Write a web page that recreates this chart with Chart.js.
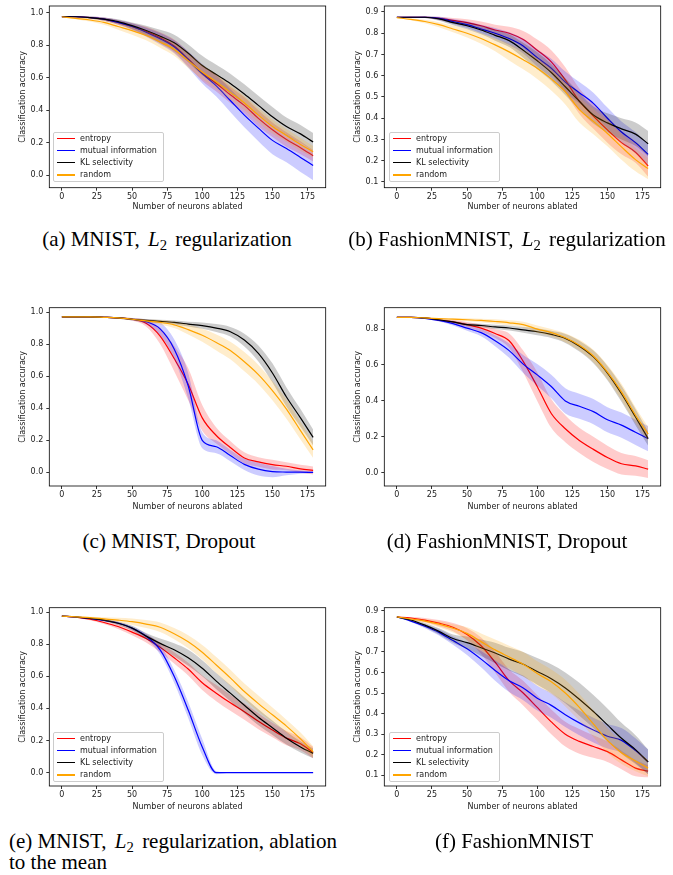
<!DOCTYPE html>
<html>
<head>
<meta charset="utf-8">
<title>Ablation curves</title>
<script src="https://cdn.jsdelivr.net/npm/chart.js@4.4.1/dist/chart.umd.min.js"></script>
<style>
  html, body { margin: 0; padding: 0; background: #fff; }
  #fig { position: relative; width: 673px; height: 875px; overflow: hidden; }
  canvas { position: absolute; }
  .legend {
    position: absolute; box-sizing: border-box; width: 111px; height: 50px;
    padding: 0 0 0 3px; border: 1px solid #ccc; border-radius: 2px;
    background: rgba(255, 255, 255, 0.8);
    font: 8px 'DejaVu Sans', sans-serif; color: #222;
  }
  .legend div { height: 12.1px; line-height: 12.1px; white-space: nowrap; }
  .legend span { display: inline-block; width: 18px; height: 1.5px; vertical-align: middle; margin-right: 5px; }
  .cap {
    position: absolute; font: 21px 'Liberation Serif', 'Times New Roman', serif;
    line-height: 21px; white-space: nowrap; color: #000;
  }
  .cap.mid { transform: translateX(-50%); }
  .cap .l2 { margin: 0 3px; }
  .cap sub { font-size: 70%; vertical-align: -0.25em; line-height: 0; }
</style>
</head>
<body>
<div id="fig">
  <canvas id="pa" width="338" height="215" style="left:0;top:0"></canvas>
  <canvas id="pb" width="338" height="215" style="left:335px;top:0"></canvas>
  <canvas id="pc" width="338" height="215" style="left:0;top:300px"></canvas>
  <canvas id="pd" width="338" height="215" style="left:335px;top:300px"></canvas>
  <canvas id="pe" width="338" height="215" style="left:0;top:600px"></canvas>
  <canvas id="pf" width="338" height="215" style="left:335px;top:600px"></canvas>

  <div class="legend" id="la" style="left:53px;top:132px"></div>
  <div class="legend" id="lb" style="left:389px;top:132px"></div>
  <div class="legend" id="le" style="left:53px;top:732px"></div>
  <div class="legend" id="lf" style="left:389px;top:732px"></div>

  <div class="cap mid" style="left:167px;top:229px">(a) MNIST, <span class="l2"><i>L</i><sub>2</sub></span> regularization</div>
  <div class="cap mid" style="left:507px;top:229px">(b) FashionMNIST, <span class="l2"><i>L</i><sub>2</sub></span> regularization</div>
  <div class="cap mid" style="left:169px;top:531px">(c) MNIST, Dropout</div>
  <div class="cap mid" style="left:507px;top:531px">(d) FashionMNIST, Dropout</div>
  <div class="cap" style="left:9px;top:831px">(e) MNIST, <span class="l2"><i>L</i><sub>2</sub></span> regularization, ablation<br>to the mean</div>
  <div class="cap mid" style="left:514px;top:831px">(f) FashionMNIST</div>
</div>

<script>
  // neurons ablated (x) and the four methods
  const xs = [0, 10, 20, 30, 40, 50, 60, 70, 80, 90, 100, 110, 120, 130, 140, 150, 160, 170, 179];
  const methods = ['entropy', 'mutual information', 'KL selectivity', 'random'];
  const xTicks = [0, 25, 50, 75, 100, 125, 150, 175];
  const yTicksMnist = [0, 0.2, 0.4, 0.6, 0.8, 1.0];
  const yTicksDrop = [0, 0.2, 0.4, 0.6, 0.8];
  const yTicksFashion = [0.1, 0.2, 0.3, 0.4, 0.5, 0.6, 0.7, 0.8, 0.9];

  // (a) MNIST, L2
  const aEnt = [0.975, 0.975, 0.97, 0.96, 0.94, 0.915, 0.885, 0.845, 0.795, 0.715, 0.63, 0.565, 0.495, 0.43, 0.35, 0.28, 0.22, 0.17, 0.12];
  const aMi  = [0.975, 0.975, 0.97, 0.96, 0.94, 0.915, 0.88, 0.84, 0.79, 0.712, 0.625, 0.55, 0.46, 0.37, 0.29, 0.215, 0.165, 0.11, 0.06];
  const aKl  = [0.975, 0.975, 0.97, 0.96, 0.945, 0.92, 0.89, 0.855, 0.815, 0.75, 0.675, 0.62, 0.565, 0.5, 0.43, 0.36, 0.3, 0.255, 0.205];
  const aRnd = [0.975, 0.965, 0.955, 0.94, 0.915, 0.89, 0.86, 0.82, 0.775, 0.705, 0.635, 0.575, 0.51, 0.445, 0.37, 0.3, 0.245, 0.19, 0.145];
  const aEntSd = [0, 0.003, 0.006, 0.01, 0.015, 0.02, 0.028, 0.035, 0.04, 0.045, 0.05, 0.05, 0.05, 0.05, 0.05, 0.045, 0.045, 0.04, 0.035];
  const aMiSd  = [0, 0.003, 0.006, 0.01, 0.015, 0.02, 0.028, 0.035, 0.04, 0.05, 0.06, 0.065, 0.07, 0.075, 0.08, 0.085, 0.085, 0.09, 0.09];
  const aKlSd  = [0, 0.003, 0.006, 0.01, 0.015, 0.02, 0.03, 0.04, 0.05, 0.055, 0.06, 0.06, 0.06, 0.06, 0.06, 0.06, 0.055, 0.055, 0.055];
  const aRndSd = [0, 0.005, 0.01, 0.015, 0.02, 0.025, 0.03, 0.035, 0.04, 0.045, 0.045, 0.045, 0.045, 0.045, 0.045, 0.045, 0.04, 0.04, 0.035];

  // (b) FashionMNIST, L2
  const bEnt = [0.875, 0.875, 0.875, 0.87, 0.86, 0.85, 0.835, 0.815, 0.8, 0.77, 0.72, 0.665, 0.58, 0.48, 0.41, 0.345, 0.285, 0.24, 0.175];
  const bMi  = [0.875, 0.875, 0.875, 0.87, 0.855, 0.84, 0.82, 0.8, 0.775, 0.74, 0.685, 0.635, 0.57, 0.52, 0.47, 0.4, 0.335, 0.285, 0.23];
  const bKl  = [0.875, 0.875, 0.875, 0.867, 0.85, 0.835, 0.815, 0.79, 0.765, 0.72, 0.67, 0.615, 0.548, 0.48, 0.415, 0.378, 0.35, 0.325, 0.28];
  const bRnd = [0.873, 0.865, 0.855, 0.84, 0.82, 0.8, 0.775, 0.745, 0.712, 0.675, 0.635, 0.585, 0.525, 0.44, 0.385, 0.328, 0.265, 0.205, 0.163];
  const bEntSd = [0, 0.002, 0.004, 0.008, 0.012, 0.016, 0.02, 0.025, 0.03, 0.04, 0.05, 0.055, 0.06, 0.06, 0.06, 0.06, 0.055, 0.05, 0.05];
  const bMiSd  = [0, 0.002, 0.004, 0.008, 0.012, 0.016, 0.02, 0.025, 0.03, 0.035, 0.04, 0.045, 0.05, 0.05, 0.05, 0.05, 0.05, 0.05, 0.05];
  const bKlSd  = [0, 0.002, 0.004, 0.008, 0.012, 0.016, 0.02, 0.025, 0.03, 0.035, 0.04, 0.04, 0.04, 0.04, 0.04, 0.045, 0.05, 0.055, 0.06];
  const bRndSd = [0, 0.004, 0.008, 0.012, 0.016, 0.02, 0.025, 0.03, 0.04, 0.045, 0.05, 0.055, 0.06, 0.06, 0.06, 0.06, 0.06, 0.055, 0.05];

  // (c) MNIST, dropout
  const cEnt = [0.97, 0.97, 0.97, 0.967, 0.963, 0.955, 0.93, 0.85, 0.71, 0.55, 0.34, 0.23, 0.155, 0.09, 0.065, 0.048, 0.038, 0.022, 0.012];
  const cMi  = [0.97, 0.97, 0.97, 0.967, 0.963, 0.955, 0.94, 0.895, 0.77, 0.54, 0.2, 0.16, 0.105, 0.05, 0.02, 0.005, 0.002, 0.001, 0];
  const cKl  = [0.97, 0.97, 0.97, 0.967, 0.963, 0.955, 0.948, 0.942, 0.935, 0.925, 0.915, 0.9, 0.877, 0.825, 0.742, 0.62, 0.47, 0.34, 0.218];
  const cRnd = [0.97, 0.97, 0.97, 0.967, 0.963, 0.955, 0.945, 0.935, 0.92, 0.89, 0.855, 0.81, 0.76, 0.69, 0.61, 0.51, 0.395, 0.26, 0.14];
  const cEntSd = [0, 0, 0.002, 0.003, 0.005, 0.008, 0.02, 0.05, 0.08, 0.1, 0.08, 0.05, 0.04, 0.035, 0.03, 0.03, 0.025, 0.025, 0.025];
  const cMiSd  = [0, 0, 0.002, 0.003, 0.005, 0.008, 0.015, 0.04, 0.06, 0.08, 0.05, 0.04, 0.035, 0.035, 0.04, 0.035, 0.02, 0.01, 0.005];
  const cKlSd  = [0, 0, 0.002, 0.003, 0.005, 0.006, 0.008, 0.01, 0.012, 0.015, 0.02, 0.025, 0.03, 0.04, 0.05, 0.06, 0.06, 0.055, 0.05];
  const cRndSd = [0, 0, 0.002, 0.003, 0.005, 0.008, 0.01, 0.015, 0.02, 0.03, 0.04, 0.05, 0.055, 0.06, 0.06, 0.06, 0.06, 0.055, 0.05];

  // (d) FashionMNIST, dropout
  const dEnt = [0.865, 0.865, 0.862, 0.85, 0.84, 0.825, 0.805, 0.775, 0.735, 0.62, 0.48, 0.33, 0.245, 0.18, 0.13, 0.085, 0.05, 0.038, 0.02];
  const dMi  = [0.865, 0.865, 0.86, 0.848, 0.83, 0.805, 0.78, 0.735, 0.68, 0.605, 0.545, 0.48, 0.4, 0.37, 0.34, 0.295, 0.265, 0.225, 0.19];
  const dKl  = [0.865, 0.865, 0.862, 0.852, 0.84, 0.825, 0.82, 0.812, 0.806, 0.795, 0.785, 0.77, 0.748, 0.705, 0.645, 0.555, 0.44, 0.31, 0.19];
  const dRnd = [0.865, 0.865, 0.862, 0.858, 0.855, 0.852, 0.848, 0.842, 0.835, 0.825, 0.8, 0.78, 0.752, 0.71, 0.65, 0.56, 0.45, 0.32, 0.215];
  const dEntSd = [0, 0, 0.003, 0.006, 0.01, 0.015, 0.02, 0.025, 0.04, 0.06, 0.08, 0.08, 0.075, 0.07, 0.07, 0.065, 0.06, 0.055, 0.05];
  const dMiSd  = [0, 0, 0.003, 0.006, 0.01, 0.015, 0.02, 0.03, 0.04, 0.05, 0.06, 0.065, 0.07, 0.07, 0.07, 0.07, 0.07, 0.07, 0.07];
  const dKlSd  = [0, 0, 0.002, 0.004, 0.006, 0.008, 0.01, 0.012, 0.014, 0.016, 0.02, 0.02, 0.025, 0.03, 0.035, 0.04, 0.045, 0.045, 0.04];
  const dRndSd = [0, 0, 0.002, 0.004, 0.006, 0.008, 0.01, 0.012, 0.014, 0.016, 0.02, 0.02, 0.025, 0.03, 0.035, 0.04, 0.045, 0.045, 0.04];

  // (e) MNIST, L2, ablation to the mean
  const eEnt = [0.975, 0.968, 0.955, 0.935, 0.91, 0.875, 0.835, 0.78, 0.715, 0.645, 0.56, 0.495, 0.435, 0.38, 0.32, 0.265, 0.215, 0.18, 0.125];
  const eMi  = [0.975, 0.968, 0.96, 0.948, 0.932, 0.9, 0.85, 0.765, 0.6, 0.39, 0.16, 0, 0, 0, 0, 0, 0, 0, 0];
  const eKl  = [0.975, 0.97, 0.96, 0.95, 0.93, 0.9, 0.85, 0.805, 0.765, 0.715, 0.65, 0.57, 0.495, 0.42, 0.345, 0.28, 0.215, 0.16, 0.12];
  const eRnd = [0.975, 0.97, 0.965, 0.958, 0.95, 0.94, 0.925, 0.905, 0.865, 0.815, 0.75, 0.67, 0.59, 0.505, 0.43, 0.36, 0.29, 0.21, 0.13];
  const eEntSd = [0, 0.003, 0.006, 0.01, 0.015, 0.02, 0.025, 0.03, 0.035, 0.04, 0.045, 0.05, 0.05, 0.05, 0.05, 0.045, 0.045, 0.04, 0.035];
  const eMiSd  = [0, 0.002, 0.004, 0.006, 0.008, 0.01, 0.015, 0.03, 0.04, 0.05, 0.05, 0.01, 0, 0, 0, 0, 0, 0, 0];
  const eKlSd  = [0, 0.002, 0.004, 0.006, 0.01, 0.015, 0.02, 0.03, 0.04, 0.05, 0.05, 0.05, 0.05, 0.05, 0.05, 0.045, 0.04, 0.035, 0.03];
  const eRndSd = [0, 0.003, 0.006, 0.01, 0.015, 0.02, 0.025, 0.03, 0.035, 0.04, 0.045, 0.05, 0.05, 0.05, 0.05, 0.045, 0.04, 0.04, 0.035];

  // (f) FashionMNIST
  const fEnt = [0.87, 0.865, 0.855, 0.84, 0.82, 0.785, 0.73, 0.65, 0.56, 0.5, 0.43, 0.36, 0.3, 0.265, 0.24, 0.215, 0.175, 0.135, 0.12];
  const fMi  = [0.87, 0.85, 0.825, 0.795, 0.755, 0.715, 0.665, 0.61, 0.56, 0.525, 0.475, 0.44, 0.395, 0.355, 0.32, 0.29, 0.27, 0.22, 0.165];
  const fKl  = [0.87, 0.855, 0.83, 0.8, 0.765, 0.745, 0.72, 0.695, 0.665, 0.64, 0.605, 0.57, 0.525, 0.47, 0.41, 0.345, 0.28, 0.225, 0.165];
  const fRnd = [0.87, 0.86, 0.85, 0.835, 0.815, 0.79, 0.75, 0.71, 0.675, 0.64, 0.595, 0.555, 0.5, 0.43, 0.35, 0.27, 0.21, 0.17, 0.135];
  const fEntSd = [0, 0.005, 0.01, 0.015, 0.02, 0.03, 0.04, 0.05, 0.055, 0.06, 0.06, 0.06, 0.06, 0.06, 0.055, 0.05, 0.045, 0.04, 0.03];
  const fMiSd  = [0, 0.005, 0.01, 0.015, 0.02, 0.03, 0.04, 0.05, 0.055, 0.06, 0.06, 0.06, 0.06, 0.06, 0.06, 0.06, 0.06, 0.06, 0.06];
  const fKlSd  = [0, 0.005, 0.01, 0.015, 0.02, 0.03, 0.04, 0.05, 0.055, 0.06, 0.065, 0.07, 0.075, 0.08, 0.08, 0.08, 0.075, 0.07, 0.06];
  const fRndSd = [0, 0.005, 0.01, 0.015, 0.02, 0.03, 0.04, 0.05, 0.055, 0.06, 0.06, 0.06, 0.065, 0.065, 0.065, 0.06, 0.055, 0.05, 0.04];

  const LINE_COLORS = ['#ff0000', '#0000ff', '#000000', '#ffa500'];
  const BAND_COLORS = ['rgba(255,0,0,0.2)', 'rgba(0,0,255,0.2)', 'rgba(0,0,0,0.2)', 'rgba(255,165,0,0.2)'];
  const FONT = { family: "'DejaVu Sans', sans-serif", size: 8 };
  const TEXT = '#222';

  // matplotlib-style box around the axes
  const frame = {
    id: 'frame',
    afterDatasetsDraw(chart) {
      const { ctx, chartArea: a } = chart;
      ctx.save();
      ctx.strokeStyle = '#000';
      ctx.lineWidth = 0.8;
      ctx.strokeRect(a.left, a.top, a.right - a.left, a.bottom - a.top);
      ctx.restore();
    }
  };

  function panel(id, means, sds, { yMin, yMax, yTicks, top, bottom }) {
    const datasets = [];
    means.forEach((m, k) => {
      const base = (3 - k) * 3;
      const line = { pointRadius: 0, cubicInterpolationMode: 'monotone' };
      datasets.push({ ...line, data: xs.map((x, i) => ({ x, y: m[i] + sds[k][i] })),
        borderWidth: 0, borderColor: 'transparent', backgroundColor: BAND_COLORS[k], fill: '+1', order: base + 1 });
      datasets.push({ ...line, data: xs.map((x, i) => ({ x, y: m[i] - sds[k][i] })),
        borderWidth: 0, borderColor: 'transparent', fill: false, order: base + 2 });
      datasets.push({ ...line, label: methods[k], data: xs.map((x, i) => ({ x, y: m[i] })),
        borderColor: LINE_COLORS[k], borderWidth: 1.2, fill: false, order: base });
    });

    const axis = {
      grid: { drawOnChartArea: false, tickLength: 3, color: '#000', tickWidth: 0.8 },
      border: { display: false },
      ticks: { font: FONT, color: TEXT, autoSkip: false, maxRotation: 0 },
      title: { display: true, font: FONT, color: TEXT, padding: 0 }
    };

    return new Chart(document.getElementById(id), {
      type: 'line',
      data: { datasets },
      plugins: [frame],
      options: {
        responsive: false,
        animation: false,
        layout: { padding: { left: 18.2, right: 12.3, top: top, bottom: 3.2 } },
        plugins: { legend: { display: false }, tooltip: { enabled: false } },
        scales: {
          x: _merge(axis, {
            type: 'linear', min: -8.95, max: 187.95,
            ticks: { padding: 1, callback: v => String(v) },
            title: { text: 'Number of neurons ablated' },
            afterBuildTicks(s) { s.ticks = xTicks.map(v => ({ value: v })); },
            afterFit(s) { s.height = 211.8 - bottom; s.paddingLeft = 0; s.paddingRight = 0; }
          }),
          y: _merge(axis, {
            type: 'linear', min: yMin, max: yMax,
            ticks: { padding: 3, callback: v => v.toFixed(1) },
            title: { text: 'Classification accuracy' },
            afterBuildTicks(s) { s.ticks = yTicks.map(v => ({ value: v })); },
            afterFit(s) { s.width = 31.1; s.paddingTop = 0; s.paddingBottom = 0; }
          })
        }
      }
    });
  }

  function _merge(a, b) {
    const out = { ...a };
    for (const k in b) {
      out[k] = (a[k] && typeof a[k] === 'object' && typeof b[k] === 'object') ? { ...a[k], ...b[k] } : b[k];
    }
    return out;
  }

  function legend(id) {
    const el = document.getElementById(id);
    methods.forEach((m, k) => {
      const row = document.createElement('div');
      const sw = document.createElement('span');
      sw.style.background = LINE_COLORS[k];
      row.appendChild(sw);
      row.appendChild(document.createTextNode(m));
      el.appendChild(row);
    });
  }

  panel('pa', [aEnt, aMi, aKl, aRnd], [aEntSd, aMiSd, aKlSd, aRndSd],
    { yMin: -0.076, yMax: 1.041, yTicks: yTicksMnist, top: 6, bottom: 187.7 });
  panel('pb', [bEnt, bMi, bKl, bRnd], [bEntSd, bMiSd, bKlSd, bRndSd],
    { yMin: 0.073, yMax: 0.928, yTicks: yTicksFashion, top: 6, bottom: 187.7 });
  panel('pc', [cEnt, cMi, cKl, cRnd], [cEntSd, cMiSd, cKlSd, cRndSd],
    { yMin: -0.085, yMax: 1.027, yTicks: yTicksMnist, top: 7.7, bottom: 186 });
  panel('pd', [dEnt, dMi, dKl, dRnd], [dEntSd, dMiSd, dKlSd, dRndSd],
    { yMin: -0.074, yMax: 0.919, yTicks: yTicksDrop, top: 7.7, bottom: 186 });
  panel('pe', [eEnt, eMi, eKl, eRnd], [eEntSd, eMiSd, eKlSd, eRndSd],
    { yMin: -0.083, yMax: 1.027, yTicks: yTicksMnist, top: 7.7, bottom: 186 });
  panel('pf', [fEnt, fMi, fKl, fRnd], [fEntSd, fMiSd, fKlSd, fRndSd],
    { yMin: 0.048, yMax: 0.915, yTicks: yTicksFashion, top: 7.7, bottom: 186 });

  ['la', 'lb', 'le', 'lf'].forEach(legend);
</script>
</body>
</html>
